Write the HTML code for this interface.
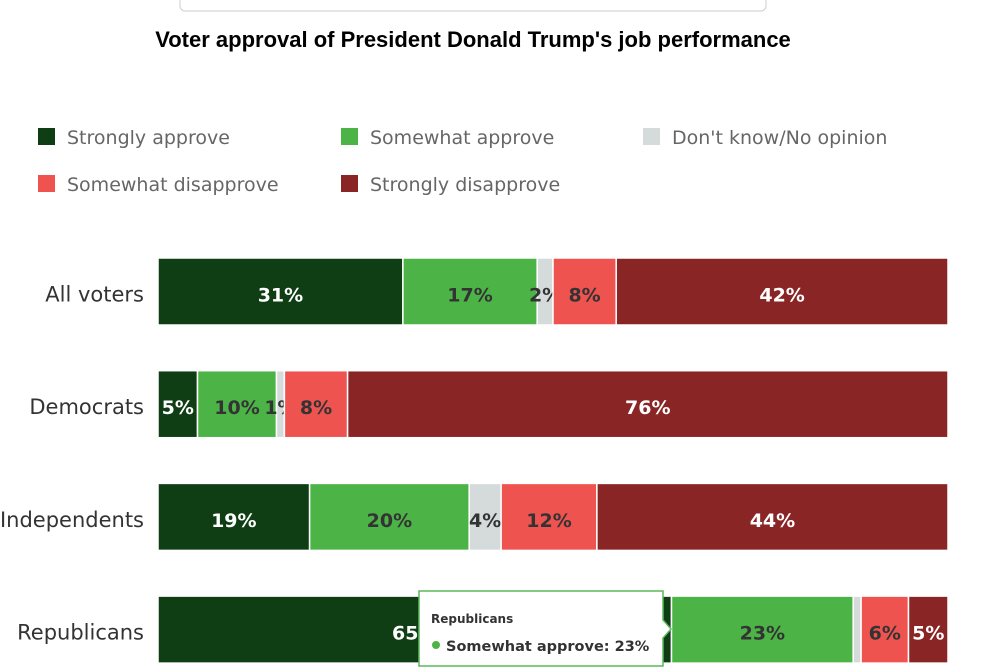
<!DOCTYPE html>
<html><head><meta charset="utf-8">
<style>
body{margin:0;background:#fff;width:990px;height:672px;overflow:hidden;font-family:"DejaVu Sans","Liberation Sans",sans-serif;}
svg{display:block}
</style></head><body>
<svg id="chart" width="990" height="672">
  <rect x="180" y="-10" width="586" height="21" rx="5" fill="#fff" stroke="#ccc"/>
  <text x="473" y="47" text-anchor="middle" font-size="22" font-weight="bold" fill="#000" style="font-family:'Liberation Sans',sans-serif">Voter approval of President Donald Trump's job performance</text>
  <g id="legend"></g>
  <g id="bars"></g>
  <g id="tooltip">
    <path d="M419,591 H663 V620 L671,629 L663,638 V666 H419 Z" fill="#fff" stroke="#5cb85c" stroke-width="1.5"/>
    <text x="431" y="623" font-size="12" font-weight="bold" fill="#333">Republicans</text>
    <circle cx="436" cy="645" r="4" fill="#4cb447"/>
    <text x="446" y="651" font-size="14.5" font-weight="bold" fill="#333">Somewhat approve: 23%</text>
  </g>
</svg>
<script>
const categories = ["All voters","Democrats","Independents","Republicans"];
const seriesNames = ["Strongly approve","Somewhat approve","Don't know/No opinion","Somewhat disapprove","Strongly disapprove"];
const stronglyApprove = [31,5,19,65];
const somewhatApprove = [17,10,20,23];
const dontKnow = [2,1,4,1];
const somewhatDisapprove = [8,8,12,6];
const stronglyDisapprove = [42,76,44,5];
const showLabel = [[1,1,1,1],[1,1,1,1],[1,1,1,0],[1,1,1,1],[1,1,1,1]];

const colors = ["#0f3d14","#4cb447","#d5dbdb","#ef5350","#8a2525"];
const textColors = ["#fff","#333","#333","#333","#fff"];
const series = [stronglyApprove,somewhatApprove,dontKnow,somewhatDisapprove,stronglyDisapprove];
const NS="http://www.w3.org/2000/svg";
const x0=158, x1=948, rowTop=258, rowStep=112.7, barH=67;

const legend=document.getElementById('legend');
const legendPos=[[38,128],[341,128],[643,128],[38,175],[341,175]];
seriesNames.forEach((n,i)=>{
  const g=document.createElementNS(NS,'g');
  
  
  const r=document.createElementNS(NS,'rect');
  r.setAttribute('x',legendPos[i][0]);r.setAttribute('y',legendPos[i][1]);
  r.setAttribute('width',17);r.setAttribute('height',17);r.setAttribute('fill',colors[i]);
  const t=document.createElementNS(NS,'text');
  t.setAttribute('x',legendPos[i][0]+29);t.setAttribute('y',legendPos[i][1]+16);
  t.setAttribute('font-size','19');t.setAttribute('fill','#666');
  t.textContent=n;
  g.appendChild(r);g.appendChild(t);legend.appendChild(g);
});

const bars=document.getElementById('bars');
categories.forEach((c,ci)=>{
  const y=rowTop+ci*rowStep;
  let total=0; series.forEach(s=>total+=s[ci]);
  const xs = v => (x1-x0)*v/total;
  const lab=document.createElementNS(NS,'text');
  
  
  lab.setAttribute('x',144);lab.setAttribute('y',y+barH/2+10);
  lab.setAttribute('text-anchor','end');lab.setAttribute('font-size','21');lab.setAttribute('fill','#333');
  lab.textContent=c;bars.appendChild(lab);
  let acc=0;
  series.forEach((s,si)=>{
    const v=s[ci];
    const bx=x0+xs(acc), bw=xs(v);
    const r=document.createElementNS(NS,'rect');
    
    
    r.setAttribute('x',bx);r.setAttribute('y',y);r.setAttribute('width',bw);r.setAttribute('height',barH);
    r.setAttribute('fill',colors[si]);r.setAttribute('stroke','#fff');r.setAttribute('stroke-width','1.5');
    bars.appendChild(r);
    if(showLabel[si][ci]){
      const t=document.createElementNS(NS,'text');
      
      
      t.setAttribute('x',bx+bw/2);t.setAttribute('y',y+barH/2+10);
      t.setAttribute('text-anchor','middle');t.setAttribute('font-size','19');t.setAttribute('font-weight','bold');
      t.setAttribute('fill',textColors[si]);
      t.textContent=v+'%';bars.appendChild(t);
    }
    acc+=v;
  });
});
</script>
</body></html>
